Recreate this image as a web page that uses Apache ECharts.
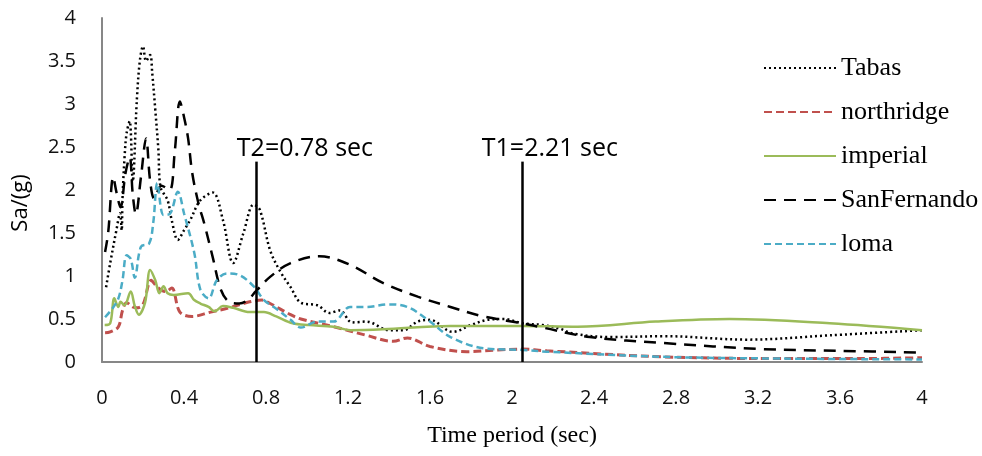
<!DOCTYPE html>
<html>
<head>
<meta charset="utf-8">
<script src="https://cdn.jsdelivr.net/npm/echarts@6/dist/echarts.min.js"></script>
<style>html,body{margin:0;padding:0;background:#fff}#c{width:982px;height:456px}</style>
</head>
<body>
<div id="c"></div>
<script>
// ---- data ----
const seriesNames = ['Tabas', 'northridge', 'imperial', 'SanFernando', 'loma'];

const tabasT = [0.02,0.04,0.07,0.088,0.096,0.1,0.11,0.12,0.135,0.15,0.17,0.185,0.2,0.215,0.235,0.245,0.26,0.275,0.285,0.32,0.34,0.37,0.4,0.43,0.48,0.54,0.59,0.64,0.69,0.74,0.77,0.82,0.87,0.92,0.97,1.05,1.11,1.16,1.22,1.29,1.4,1.47,1.54,1.6,1.71,1.8,1.88,1.96,2.05,2.15,2.23,2.3,2.48,2.74,3.15,3.55,4.0];
const tabasSa = [0.87,1.15,1.53,1.73,1.53,1.9,2.38,2.66,2.8,2.1,3.05,3.51,3.67,3.5,3.57,3.36,2.93,2.47,2.04,1.88,1.65,1.42,1.53,1.65,1.88,1.97,1.65,1.15,1.5,1.83,1.77,1.3,1.05,0.87,0.69,0.66,0.57,0.6,0.46,0.47,0.37,0.37,0.47,0.49,0.35,0.43,0.49,0.5,0.45,0.43,0.39,0.33,0.29,0.3,0.26,0.31,0.37];

const northT = [0.015,0.04,0.08,0.1,0.12,0.15,0.17,0.2,0.24,0.27,0.31,0.34,0.38,0.44,0.53,0.62,0.72,0.78,0.82,0.92,0.97,1.13,1.29,1.42,1.49,1.6,1.78,1.93,2.05,2.17,2.74,3.3,3.7,4.0];
const northSa = [0.34,0.35,0.41,0.6,0.69,0.64,0.63,0.67,0.95,0.87,0.82,0.86,0.58,0.53,0.58,0.63,0.7,0.72,0.68,0.55,0.5,0.41,0.31,0.24,0.28,0.18,0.12,0.14,0.15,0.13,0.06,0.04,0.04,0.05];

const imperialT = [0.013,0.04,0.06,0.08,0.09,0.11,0.14,0.16,0.18,0.21,0.235,0.26,0.28,0.3,0.32,0.35,0.42,0.45,0.48,0.52,0.55,0.59,0.64,0.72,0.79,0.85,0.93,1.01,1.13,1.21,1.37,1.7,2.05,2.32,2.7,3.06,3.55,4.0];
const imperialSa = [0.43,0.45,0.74,0.64,0.7,0.66,0.82,0.65,0.55,0.69,1.07,0.95,0.8,0.88,0.8,0.78,0.8,0.72,0.68,0.64,0.59,0.65,0.63,0.58,0.58,0.53,0.45,0.43,0.41,0.37,0.38,0.42,0.42,0.41,0.47,0.5,0.45,0.37];

const sanT = [0.015,0.03,0.055,0.07,0.09,0.115,0.135,0.15,0.165,0.19,0.215,0.235,0.255,0.29,0.33,0.355,0.38,0.4,0.42,0.44,0.47,0.5,0.54,0.58,0.62,0.67,0.71,0.75,0.82,0.92,1.06,1.21,1.37,1.54,1.7,1.86,2.05,2.15,2.38,2.74,3.22,3.6,4.0];
const sanSa = [1.28,1.5,2.15,1.98,1.8,2.2,2.38,1.95,1.72,2.15,2.6,2.1,1.9,2.05,2.0,2.45,3.03,2.85,2.6,2.2,1.85,1.6,1.22,0.84,0.7,0.68,0.72,0.82,0.99,1.15,1.23,1.13,0.92,0.76,0.64,0.53,0.45,0.4,0.29,0.22,0.15,0.13,0.11];

const lomaT = [0.015,0.05,0.08,0.1,0.12,0.14,0.16,0.19,0.23,0.25,0.27,0.3,0.33,0.37,0.4,0.45,0.48,0.52,0.56,0.61,0.67,0.74,0.79,0.85,0.92,0.97,1.05,1.13,1.21,1.29,1.4,1.49,1.59,1.7,1.86,2.05,2.17,2.74,3.3,4.0];
const lomaSa = [0.52,0.62,0.74,0.95,1.24,1.2,0.98,1.34,1.38,1.62,2.08,1.71,1.72,1.98,1.73,1.27,0.84,0.74,0.95,1.03,1.01,0.88,0.72,0.62,0.49,0.4,0.47,0.47,0.64,0.64,0.67,0.64,0.49,0.29,0.16,0.14,0.12,0.06,0.04,0.03];

// period markers (drawn position, label text)
const markerT = [0.75, 2.05];
const markerLabels = ['T2=0.78 sec', 'T1=2.21 sec'];
const markerTop = 2.33;

const xTicks = {min: 0, max: 4, interval: 0.4};
const yTicks = {min: 0, max: 4, interval: 0.5};

// ---- chart ----
const zip = (a, b) => a.map((v, i) => [v, b[i]]);
const styles = [
  {color: '#000000', width: 2.5, type: [2, 3]},
  {color: '#C0504D', width: 3, type: [8, 4]},
  {color: '#9BBB59', width: 2.5, type: 'solid'},
  {color: '#000000', width: 2.5, type: [12, 8]},
  {color: '#4BACC6', width: 2.5, type: [7, 4]}
];
const dataSets = [zip(tabasT, tabasSa), zip(northT, northSa), zip(imperialT, imperialSa), zip(sanT, sanSa), zip(lomaT, lomaSa)];

const series = seriesNames.map((n, i) => ({
  name: n,
  type: 'line',
  data: dataSets[i],
  smooth: 0.35,
  showSymbol: false,
  symbol: 'none',
  z: 3,
  itemStyle: {color: styles[i].color},
  lineStyle: {color: styles[i].color, width: styles[i].width, type: styles[i].type, cap: 'butt'}
}));

series.push({
  type: 'line',
  data: [],
  silent: true,
  markLine: {
    silent: true,
    symbol: 'none',
    animation: false,
    lineStyle: {color: '#000', width: 2.5, type: 'solid'},
    label: {show: false},
    data: markerT.map(t => [{coord: [t, 0]}, {coord: [t, markerTop]}])
  },
  markPoint: {
    silent: true,
    symbol: 'circle',
    symbolSize: 1,
    animation: false,
    itemStyle: {color: 'rgba(0,0,0,0)'},
    label: {show: true, position: 'inside', color: '#000', fontFamily: 'Open Sans', fontSize: 25},
    data: [
      {coord: [markerT[0] + 0.24, markerTop + 0.15], label: {formatter: markerLabels[0]}},
      {coord: [markerT[1] + 0.135, markerTop + 0.15], label: {formatter: markerLabels[1]}}
    ]
  }
});

const chart = echarts.init(document.getElementById('c'), null, {renderer: 'canvas'});
chart.setOption({
  animation: false,
  backgroundColor: '#fff',
  grid: {left: 102, right: 60, top: 18, bottom: 94},
  legend: {
    data: seriesNames,
    orient: 'vertical',
    left: 758,
    top: 50,
    itemWidth: 72,
    itemHeight: 14,
    itemGap: 18,
    itemStyle: {opacity: 0},
    textStyle: {fontFamily: 'Liberation Serif', fontSize: 26, color: '#000'}
  },
  xAxis: {
    type: 'value',
    min: xTicks.min, max: xTicks.max, interval: xTicks.interval,
    name: 'Time period (sec)',
    nameLocation: 'middle',
    nameGap: 62,
    nameTextStyle: {fontFamily: 'Liberation Serif', fontSize: 24, color: '#000'},
    axisLine: {show: true, lineStyle: {color: '#878787', width: 2}},
    axisTick: {show: false},
    splitLine: {show: false},
    axisLabel: {fontFamily: 'Open Sans', fontSize: 20, color: '#111', margin: 26}
  },
  yAxis: {
    type: 'value',
    min: yTicks.min, max: yTicks.max, interval: yTicks.interval,
    name: 'Sa/(g)',
    nameLocation: 'middle',
    nameRotate: 90,
    nameGap: 70,
    nameTextStyle: {fontFamily: 'Open Sans', fontSize: 22, color: '#000', padding: [0, 26, 0, 0]},
    axisLine: {show: true, lineStyle: {color: '#878787', width: 2}},
    axisTick: {show: false},
    splitLine: {show: false},
    axisLabel: {fontFamily: 'Open Sans', fontSize: 20, color: '#111', margin: 26}
  },
  series: series
});
</script>
</body>
</html>
